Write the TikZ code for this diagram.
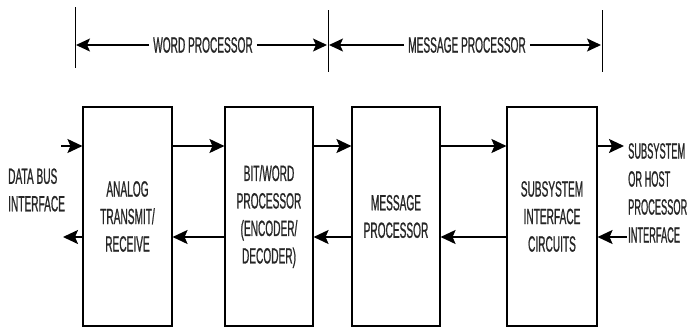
\documentclass[tikz,border=0pt]{standalone}
\usepackage{fontspec}
\newfontfamily\condfont[FakeStretch=0.46,FakeBold=0.8]{Liberation Sans}
\newfontfamily\narrowfont[FakeStretch=0.42,FakeBold=0.8]{Liberation Sans}
\usetikzlibrary{arrows.meta}
\begin{document}
\begin{tikzpicture}[x=1pt,y=-1pt,
  lbl/.style={font=\condfont\fontsize{22}{27.5}\selectfont, text=black!85, inner sep=0pt},
  blk/.style={draw, line width=1.1pt, minimum height=219pt, inner sep=0pt},
  flow/.style={line width=1.8pt, -{Stealth[length=15pt,width=14pt,inset=3pt]}},
  dim/.style={line width=1.4pt, -{Stealth[length=14pt,width=13pt,inset=3pt]}},
  tick/.style={line width=0.8pt}]
\useasboundingbox (0,0) rectangle (691,327);
% ticks
\coordinate (t1a) at (75,7);  \coordinate (t1b) at (75,68);
\coordinate (t2a) at (328,10); \coordinate (t2b) at (328,72);
\coordinate (t3a) at (602,10); \coordinate (t3b) at (602,72);
\draw[tick] (t1a) -- (t1b);
\draw[tick] (t2a) -- (t2b);
\draw[tick] (t3a) -- (t3b);
% dimension labels
\node[lbl, inner xsep=4pt] (wp) at (203,45) {WORD PROCESSOR};
\node[lbl, inner xsep=4pt] (mp) at (467,45) {MESSAGE PROCESSOR};
\coordinate (d1) at (76,45);
\coordinate (d2) at (327,45);
\coordinate (d3) at (329,45);
\coordinate (d4) at (601,45);
\draw[dim] (wp.west) -- (d1);
\draw[dim] (wp.east) -- (d2);
\draw[dim] (mp.west) -- (d3);
\draw[dim] (mp.east) -- (d4);
% blocks
\node[blk, minimum width=89pt, lbl, align=center, draw, line width=1.1pt, minimum height=219pt] (b1) at (127.5,216.5) {ANALOG\\TRANSMIT/\\RECEIVE};
\node[blk, minimum width=88pt, lbl, align=center, draw, line width=1.1pt, minimum height=219pt] (b2) at (269,216.5) {BIT/WORD\\PROCESSOR\\(ENCODER/\\DECODER)};
\node[blk, minimum width=88pt, lbl, align=center, draw, line width=1.1pt, minimum height=219pt] (b3) at (396,216.5) {MESSAGE\\PROCESSOR};
\node[blk, minimum width=90pt, lbl, align=center, draw, line width=1.1pt, minimum height=219pt] (b4) at (552,216.5) {SUBSYSTEM\\INTERFACE\\CIRCUITS};
% levels
\coordinate (yu) at (0,146);
\coordinate (yl) at (0,237);
% free ends
\coordinate (inL) at (61,146);
\coordinate (outL) at (63,237);
\coordinate (outR) at (624,146);
\coordinate (inR) at (627,237);
% flows
\draw[flow] (inL) -- (b1.west |- yu);
\draw[flow] (b1.west |- yl) -- (outL);
\draw[flow] (b1.east |- yu) -- (b2.west |- yu);
\draw[flow] (b2.west |- yl) -- (b1.east |- yl);
\draw[flow] (b2.east |- yu) -- (b3.west |- yu);
\draw[flow] (b3.west |- yl) -- (b2.east |- yl);
\draw[flow] (b3.east |- yu) -- (b4.west |- yu);
\draw[flow] (b4.west |- yl) -- (b3.east |- yl);
\draw[flow] (b4.east |- yu) -- (outR);
\draw[flow] (inR) -- (b4.east |- yl);
% side labels
\node[lbl, align=left, anchor=west] (dbi) at (8,190) {DATA BUS\\INTERFACE};
\node[lbl, font=\narrowfont\fontsize{22}{28}\selectfont, align=left, anchor=west] (shi) at (628,193) {SUBSYSTEM\\OR HOST\\PROCESSOR\\INTERFACE};
\end{tikzpicture}
\end{document}
